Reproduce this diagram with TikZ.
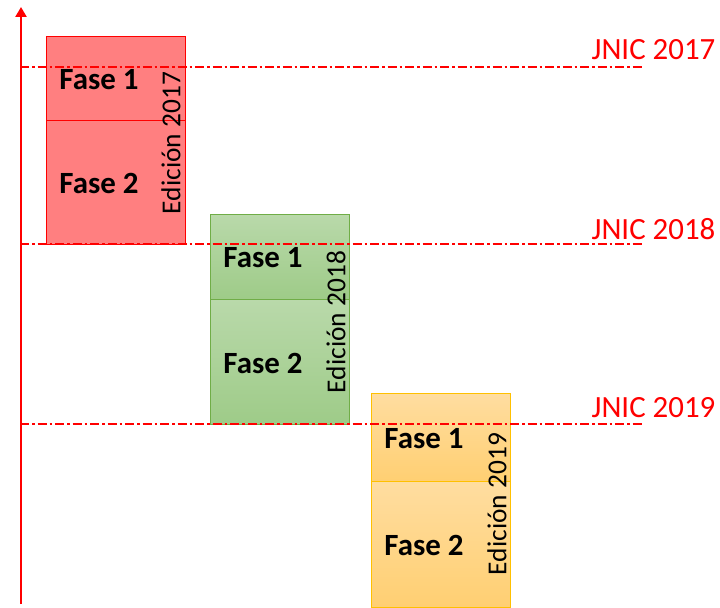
\documentclass[tikz,border=0pt]{standalone}
\usepackage{fontspec}
\setmainfont{Carlito}
\usetikzlibrary{arrows.meta}
\definecolor{redfill}{HTML}{FF7F80}
\definecolor{redline}{HTML}{FF0000}
\definecolor{greenline}{HTML}{70AD47}
\definecolor{greentop}{HTML}{B9D9AA}
\definecolor{greenbot}{HTML}{9ECB88}
\definecolor{orangeline}{HTML}{FFC000}
\definecolor{orangetop}{HTML}{FFDDA0}
\definecolor{orangebot}{HTML}{FFCF72}
\tikzset{
  part/.style={rectangle, anchor=north west, inner sep=0pt, line width=1.2bp},
  redpart/.style={part, draw=redline, fill=redfill},
  greenpart/.style={part, draw=greenline, top color=greentop, bottom color=greenbot},
  orangepart/.style={part, draw=orangeline, top color=orangetop, bottom color=orangebot},
  fase/.style={font=\fontsize{31}{33}\selectfont\bfseries, inner sep=0pt},
  edicion/.style={font=\fontsize{27.5}{30}\selectfont, rotate=90, inner sep=0pt},
  jnic/.style={font=\fontsize{31}{33}\selectfont, text=redline, inner sep=0pt},
  mark line/.style={draw=redline, line width=1.2bp, dash pattern=on 9bp off 3bp on 2.5bp off 3bp},
  axis/.style={draw=redline, line width=2.8bp, -{Triangle[length=10bp,width=11bp]}}
}
\begin{document}
\begin{tikzpicture}[x=1bp,y=-1bp]
\useasboundingbox (0,0) rectangle (720,608);
% edition 2017
\node[redpart, minimum width=139bp, minimum height=84bp] (r1) at (46,36) {};
\node[redpart, minimum width=139bp, minimum height=124bp] (r2) at (46,120) {};
% edition 2018
\node[greenpart, minimum width=139bp, minimum height=85bp] (g1) at (210,214) {};
\node[greenpart, minimum width=139bp, minimum height=125bp] (g2) at (210,299) {};
% edition 2019
\node[orangepart, minimum width=139bp, minimum height=88bp] (o1) at (371,393) {};
\node[orangepart, minimum width=139bp, minimum height=126bp] (o2) at (371,481) {};
% texts
\node[fase] (r1t) at (99,80) {Fase 1};
\node[fase] (r2t) at (99,183) {Fase 2};
\node[edicion] (r3t) at (171,143) {Edición 2017};
\node[fase] (g1t) at (263,258) {Fase 1};
\node[fase] (g2t) at (263,363) {Fase 2};
\node[edicion] (g3t) at (336,322) {Edición 2018};
\node[fase] (o1t) at (424,439) {Fase 1};
\node[fase] (o2t) at (424,545) {Fase 2};
\node[edicion] (o3t) at (497,504) {Edición 2019};
% milestone lines
\coordinate (l1a) at (20,67);  \coordinate (l1b) at (642,67);
\coordinate (l2a) at (20,244); \coordinate (l2b) at (642,244);
\coordinate (l3a) at (20,424); \coordinate (l3b) at (642,424);
\draw[mark line] (l1a) -- (l1b);
\draw[mark line] (l2a) -- (l2b);
\draw[mark line] (l3a) -- (l3b);
\node[jnic] (j1) at (653.5,50) {JNIC 2017};
\node[jnic] (j2) at (653.5,229) {JNIC 2018};
\node[jnic] (j3) at (653.5,408) {JNIC 2019};
% time axis
\coordinate (ax0) at (21,604);
\coordinate (ax1) at (21,7);
\draw[axis] (ax0) -- (ax1);
\end{tikzpicture}
\end{document}
